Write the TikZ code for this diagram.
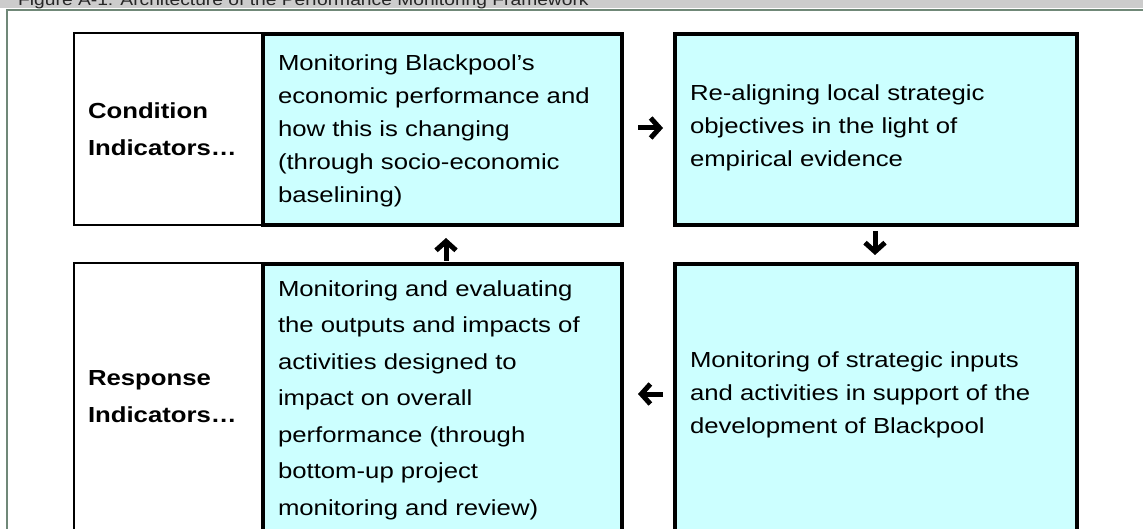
\documentclass[tikz,border=0pt]{standalone}
\usepackage{fontspec}
\setmainfont{Liberation Sans}[FakeStretch=1.18]
\usetikzlibrary{arrows.meta}
\definecolor{boxblue}{HTML}{CCFFFF}
\definecolor{headgray}{HTML}{CCCCCC}
\definecolor{framegreen}{RGB}{112,136,120}
\tikzset{
  whitebox/.style={draw=black, line width=2pt, fill=white, inner sep=0pt, outer sep=0pt, anchor=north west},
  bluebox/.style={draw=black, line width=4pt, fill=boxblue, inner sep=0pt, outer sep=0pt, anchor=north west},
  txt/.style={anchor=north west, inner sep=0pt, outer sep=0pt, align=left, font=\fontsize{21.8}{33}\selectfont},
  txtwide/.style={txt, font=\fontsize{21.8}{36.5}\selectfont},
  lbl/.style={anchor=north west, inner sep=0pt, outer sep=0pt, align=left, font=\fontsize{21.8}{37}\selectfont\bfseries},
  flowarrow/.style={line width=5pt, -{Straight Barb[length=9pt, width=20pt, line width=5pt]}},
}
\begin{document}
\begin{tikzpicture}[x=1pt, y=-1pt]
\useasboundingbox (0,0) rectangle (1143,529);
% header bar and frame
\fill[headgray] (0,0) rectangle (1143,8.3);
\begin{scope}
  \clip (0,0) rectangle (1143,8.3);
  \node[anchor=base west, inner sep=0pt, font=\fontsize{16.3}{18}\selectfont, text=black!85] (title) at (18,6) {Figure A-1: Architecture of the Performance Monitoring Framework};
\end{scope}
\draw[framegreen, line width=2.2pt] (7,560) |- (1160,10);
% boxes
\node[whitebox, minimum width=189pt, minimum height=192pt] (wl1) at (74,33) {};
\node[whitebox, minimum width=189pt, minimum height=272pt] (wl2) at (74,263.5) {};
\node[bluebox, minimum width=359pt, minimum height=191.5pt] (b1) at (263,34) {};
\node[bluebox, minimum width=402pt, minimum height=191.5pt] (b2) at (675,34) {};
\node[bluebox, minimum width=359pt, minimum height=272pt] (b4) at (263,264) {};
\node[bluebox, minimum width=402pt, minimum height=272pt] (b3) at (675,264) {};
% labels
\node[lbl] (l1) at (88,102.3) {Condition\\Indicators…};
\node[lbl] (l2) at (88,370.3) {Response\\Indicators…};
% texts
\node[txt] (t1) at (278,54.3) {Monitoring Blackpool’s\\economic performance and\\how this is changing\\(through socio-economic\\baselining)};
\node[txt] (t2) at (690,84.3) {Re-aligning local strategic\\objectives in the light of\\empirical evidence};
\node[txt] (t3) at (690,351.3) {Monitoring of strategic inputs\\and activities in support of the\\development of Blackpool};
\node[txtwide] (t4) at (278,280.3) {Monitoring and evaluating\\the outputs and impacts of\\activities designed to\\impact on overall\\performance (through\\bottom-up project\\monitoring and review)};
% arrows
\coordinate (ra) at (638,128);  \coordinate (rb) at (663,128);
\coordinate (da) at (875,231);  \coordinate (db) at (875,255);
\coordinate (la) at (663,394);  \coordinate (lb) at (638,394);
\coordinate (ua) at (446,261);  \coordinate (ub) at (446,238);
\draw[flowarrow] (ra) -- (rb);
\draw[flowarrow] (da) -- (db);
\draw[flowarrow] (la) -- (lb);
\draw[flowarrow] (ua) -- (ub);
\end{tikzpicture}
\end{document}
